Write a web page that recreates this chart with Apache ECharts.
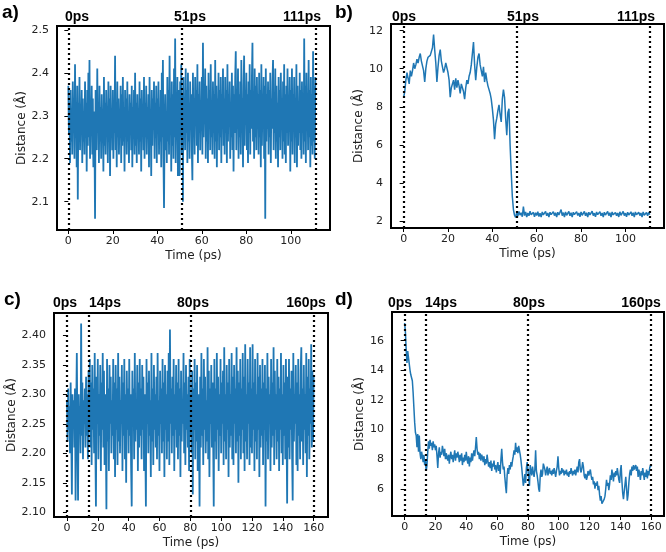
<!DOCTYPE html>
<html>
<head>
<meta charset="utf-8">
<script src="https://cdn.jsdelivr.net/npm/echarts@6/dist/echarts.min.js"></script>
<style>html,body{margin:0;padding:0;background:#fff}#c{width:666px;height:552px}</style>
</head>
<body>
<div id="c"></div>
<script>
// ---------------- DATA ----------------
// Panel a: Distance (Å) vs time, sampled every 0.25 ps from 0 to 111 ps
const aStep = 0.25;
const aValues = [
2.37,2.26,2.33,2.19,2.36,2.24,2.31,2.21,2.38,2.27,2.34,2.20,2.42,2.25,2.32,2.18,2.37,2.105,2.33,2.26,
2.39,2.22,2.32,2.27,2.36,2.19,2.34,2.24,2.31,2.21,2.38,2.26,2.33,2.17,2.36,2.23,2.40,2.25,2.43,2.20,
2.32,2.27,2.37,2.21,2.34,2.18,2.31,2.25,2.06,2.36,2.29,2.22,2.41,2.26,2.33,2.19,2.37,2.24,2.32,2.20,
2.35,2.26,2.31,2.17,2.39,2.23,2.33,2.21,2.36,2.27,2.32,2.19,2.38,2.24,2.34,2.16,2.37,2.25,2.31,2.22,
2.36,2.20,2.33,2.26,2.44,2.22,2.32,2.18,2.38,2.25,2.34,2.21,2.31,2.27,2.37,2.19,2.35,2.23,2.39,2.24,
2.32,2.17,2.36,2.26,2.34,2.21,2.38,2.24,2.31,2.19,2.35,2.27,2.33,2.22,2.37,2.18,2.32,2.25,2.36,2.21,
2.40,2.23,2.33,2.19,2.35,2.26,2.31,2.21,2.38,2.24,2.34,2.17,2.36,2.27,2.32,2.22,2.39,2.20,2.33,2.25,
2.37,2.21,2.32,2.26,2.35,2.18,2.39,2.24,2.31,2.16,2.36,2.23,2.34,2.27,2.38,2.20,2.33,2.25,2.37,2.19,
2.34,2.26,2.38,2.21,2.32,2.24,2.36,2.18,2.40,2.25,2.43,2.20,2.085,2.27,2.35,2.22,2.31,2.19,2.39,2.24,
2.36,2.21,2.44,2.26,2.33,2.17,2.38,2.23,2.35,2.20,2.41,2.25,2.48,2.19,2.34,2.27,2.39,2.16,2.36,2.22,
2.16,2.38,2.25,2.42,2.21,2.35,2.10,2.39,2.27,2.34,2.22,2.41,2.26,2.36,2.19,2.40,2.24,2.33,2.20,2.38,
2.27,2.35,2.22,2.15,2.40,2.25,2.34,2.21,2.39,2.28,2.36,2.23,2.42,2.19,2.35,2.26,2.38,2.22,2.33,2.27,
2.39,2.21,2.47,2.25,2.35,2.28,2.41,2.20,2.37,2.24,2.34,2.19,2.40,2.27,2.36,2.22,2.42,2.25,2.33,2.21,
2.38,2.26,2.35,2.20,2.43,2.24,2.37,2.18,2.34,2.28,2.40,2.22,2.36,2.25,2.39,2.19,2.35,2.27,2.41,2.23,
2.34,2.21,2.39,2.26,2.36,2.19,2.42,2.24,2.35,2.28,2.38,2.20,2.33,2.25,2.40,2.22,2.37,2.17,2.35,2.26,
2.39,2.45,2.22,2.36,2.27,2.41,2.20,2.35,2.25,2.38,2.21,2.43,2.26,2.34,2.18,2.37,2.44,2.23,2.36,2.28,
2.40,2.22,2.35,2.19,2.38,2.26,2.42,2.21,2.36,2.27,2.39,2.47,2.24,2.34,2.20,2.41,2.25,2.37,2.22,2.39,
2.27,2.35,2.21,2.40,2.25,2.36,2.18,2.42,2.23,2.34,2.28,2.39,2.20,2.37,2.06,2.41,2.24,2.35,2.27,2.38,
2.21,2.36,2.25,2.40,2.19,2.34,2.27,2.38,2.43,2.22,2.35,2.26,2.41,2.20,2.37,2.24,2.33,2.18,2.39,2.25,
2.36,2.22,2.40,2.27,2.34,2.20,2.38,2.24,2.42,2.21,2.35,2.19,2.37,2.26,2.41,2.23,2.34,2.28,2.39,2.17,
2.36,2.24,2.41,2.21,2.35,2.27,2.39,2.19,2.34,2.25,2.42,2.18,2.37,2.23,2.33,2.26,2.40,2.22,2.36,2.20,
2.38,2.26,2.35,2.21,2.48,2.24,2.37,2.19,2.40,2.27,2.34,2.22,2.43,2.25,2.36,2.18,2.39,2.23,2.35,2.21,
2.45,2.24,2.37,2.20,2.39
];
const aEvents = [0, 51, 111];
const aEventLabels = ['0ps', '51ps', '111ps'];
const aXTicks = [0, 20, 40, 60, 80, 100];
const aYTicks = [2.1, 2.2, 2.3, 2.4, 2.5];

// Panel b: sampled every 0.5 ps from 0 to 111 ps
const bStep = 0.5;
const bValues = [
8.5,8.8,9.4,9.8,9.5,9.2,9.9,9.6,9.9,10.3,
10.0,10.2,10.5,10.3,10.6,10.8,10.4,10.3,9.9,9.3,
10.0,10.4,10.6,10.5,10.7,10.6,11.1,11.8,11.0,10.3,
9.3,10.1,10.7,11.0,10.4,10.1,9.8,10.0,10.3,10.4,
9.8,9.4,8.5,9.0,9.2,9.4,8.9,9.5,9.0,9.4,
9.1,8.7,9.2,9.0,8.8,8.4,9.0,9.4,9.2,9.6,
9.8,10.2,10.8,11.4,10.2,9.4,10.1,10.6,10.8,10.2,
9.9,9.6,10.1,9.3,9.8,9.4,9.1,8.9,8.7,8.4,
7.9,7.3,6.3,7.1,7.4,7.8,8.1,7.6,7.2,8.4,
8.9,8.5,7.4,6.5,7.7,7.9,6.0,4.6,3.3,2.6,
2.30,2.18,2.46,2.26,2.50,2.31,2.43,2.22,2.75,2.28,2.47,2.21,2.42,2.27,2.51,2.33,2.24,2.45,2.22,2.43,
2.29,2.49,2.23,2.41,2.20,2.47,2.32,2.25,2.50,2.27,2.42,2.21,2.46,2.33,2.24,2.49,2.28,2.43,2.20,2.46,
2.31,2.26,2.60,2.28,2.44,2.21,2.47,2.30,2.24,2.50,2.27,2.43,2.20,2.46,2.33,2.25,2.49,2.29,2.42,2.22,
2.47,2.30,2.24,2.50,2.27,2.43,2.21,2.46,2.32,2.25,2.51,2.28,2.41,2.22,2.47,2.33,2.24,2.49,2.27,2.42,
2.21,2.46,2.31,2.26,2.50,2.28,2.43,2.20,2.47,2.32,2.25,2.45,2.27,2.42,2.21,2.48,2.30,2.24,2.50,2.28,
2.41,2.22,2.46,2.31,2.25,2.48,2.27,2.43,2.20,2.47,2.33,2.24,2.46,2.28,2.42,2.21,2.47,2.30,2.25,2.44,
2.27,2.45,2.33
];
const bEvents = [0, 51, 111];
const bEventLabels = ['0ps', '51ps', '111ps'];
const bXTicks = [0, 20, 40, 60, 80, 100];
const bYTicks = [2, 4, 6, 8, 10, 12];

// Panel c: sampled every 0.4 ps from 0 to 160 ps
const cStep = 0.4;
const cValues = [
2.29,2.22,2.31,2.24,2.28,2.20,2.32,2.23,2.13,2.30,2.25,2.29,2.21,2.31,2.12,2.27,2.37,2.23,2.12,2.30,
2.24,2.28,2.20,2.42,2.23,2.32,2.19,2.29,2.25,2.31,2.21,2.33,2.23,2.30,2.19,2.34,2.24,2.36,2.21,2.32,
2.18,2.35,2.24,2.31,2.20,2.37,2.22,2.11,2.33,2.25,2.36,2.19,2.30,2.23,2.35,2.17,2.32,2.24,2.37,2.21,
2.34,2.18,2.30,2.24,2.105,2.36,2.22,2.31,2.17,2.35,2.25,2.33,2.20,2.29,2.23,2.36,2.19,2.32,2.16,2.35,
2.24,2.31,2.18,2.37,2.22,2.33,2.20,2.29,2.25,2.35,2.17,2.32,2.23,2.36,2.19,2.30,2.15,2.34,2.24,2.31,
2.20,2.36,2.23,2.30,2.18,2.11,2.34,2.25,2.31,2.19,2.37,2.22,2.29,2.24,2.35,2.17,2.32,2.21,2.36,2.23,
2.31,2.19,2.35,2.24,2.33,2.17,2.30,2.22,2.11,2.36,2.25,2.32,2.20,2.34,2.23,2.29,2.16,2.37,2.22,2.31,
2.18,2.35,2.24,2.30,2.21,2.33,2.19,2.37,2.23,2.29,2.17,2.34,2.25,2.31,2.20,2.36,2.22,2.32,2.16,2.35,
2.24,2.30,2.19,2.34,2.22,2.37,2.18,2.41,2.25,2.31,2.20,2.33,2.23,2.36,2.17,2.30,2.24,2.35,2.21,2.32,
2.19,2.36,2.23,2.31,2.16,2.34,2.22,2.29,2.25,2.37,2.20,2.32,2.18,2.35,2.24,2.30,2.21,2.33,2.17,2.36,
2.23,2.30,2.20,2.34,2.13,2.31,2.24,2.36,2.19,2.32,2.22,2.35,2.17,2.30,2.25,2.11,2.33,2.21,2.37,2.23,
2.31,2.18,2.36,2.24,2.33,2.20,2.29,2.22,2.38,2.19,2.34,2.16,2.31,2.25,2.35,2.21,2.32,2.23,2.11,2.36,
2.22,2.31,2.19,2.37,2.24,2.33,2.17,2.30,2.23,2.36,2.20,2.32,2.25,2.34,2.18,2.38,2.22,2.30,2.19,2.35,
2.24,2.32,2.16,2.36,2.21,2.30,2.23,2.37,2.19,2.33,2.18,2.35,2.25,2.31,2.20,2.38,2.22,2.34,2.15,2.32,
2.23,2.36,2.19,2.31,2.24,2.37,2.20,2.33,2.17,2.385,2.22,2.30,2.19,2.36,2.25,2.32,2.18,2.38,2.21,2.31,
2.20,2.385,2.24,2.32,2.17,2.36,2.22,2.30,2.19,2.37,2.24,2.33,2.16,2.35,2.21,2.31,2.23,2.36,2.18,2.32,
2.24,2.35,2.11,2.31,2.22,2.37,2.19,2.33,2.25,2.30,2.17,2.36,2.21,2.32,2.23,2.38,2.18,2.34,2.24,2.30,
2.19,2.36,2.22,2.33,2.17,2.31,2.24,2.37,2.20,2.30,2.18,2.35,2.23,2.32,2.19,2.36,2.25,2.115,2.33,2.21,
2.36,2.19,2.31,2.24,2.34,2.20,2.12,2.37,2.22,2.30,2.25,2.35,2.18,2.32,2.17,2.36,2.23,2.30,2.19,2.34,
2.38,2.22,2.31,2.18,2.35,2.24,2.30,2.20,2.37,2.16,2.33,2.23,2.36,2.19,2.31,2.25,2.385,2.21,2.34,2.22,
2.33
];
const cEvents = [0, 14, 80, 160];
const cEventLabels = ['0ps', '14ps', '80ps', '160ps'];
const cXTicks = [0, 20, 40, 60, 80, 100, 120, 140, 160];
const cYTicks = [2.10, 2.15, 2.20, 2.25, 2.30, 2.35, 2.40];

// Panel d: sampled every 0.5 ps from 0 to 160 ps
const dStep = 0.5;
const dValues = [
17.2,16.6,15.4,14.5,15.3,15.4,15.2,14.0,13.7,13.5,
13.3,12.5,11.5,10.5,9.8,9.6,8.8,9.7,8.5,9.6,
8.4,8.0,8.5,8.2,7.8,8.3,7.6,7.9,7.2,7.6,
8.5,9.2,8.7,9.3,8.9,9.1,8.6,9.2,8.8,9.0,
8.6,8.9,8.2,7.4,8.4,8.8,8.1,8.5,8.3,8.9,
8.6,8.2,8.7,8.0,8.4,8.1,7.9,8.3,7.7,8.2,
8.5,8.0,8.3,7.8,8.2,8.6,7.9,8.4,8.1,8.5,
8.2,7.8,8.3,7.9,8.4,7.6,8.1,7.8,8.3,7.9,
8.5,8.0,7.7,8.2,7.5,8.1,7.8,8.4,7.9,8.3,
8.6,8.2,8.8,9.5,8.7,8.3,8.5,8.0,8.4,7.9,
8.3,8.1,7.8,8.2,7.6,8.0,7.7,8.3,7.9,7.5,
7.8,7.4,7.9,7.2,7.7,7.5,7.9,7.3,7.6,7.1,
7.5,7.8,7.2,7.6,7.0,8.0,8.7,7.8,7.3,7.5,
6.8,6.2,5.7,6.9,7.4,7.0,7.6,7.3,7.8,7.5,
7.9,8.2,8.6,8.3,9.1,8.5,8.8,8.4,8.9,8.6,
8.3,7.9,7.4,6.8,6.2,6.5,7.0,6.4,7.4,7.8,
7.3,6.7,6.2,7.6,7.2,6.9,7.5,7.1,6.8,7.3,
8.6,7.2,6.9,6.5,6.0,5.8,6.9,7.3,6.8,7.0,
7.7,7.8,7.3,6.9,7.2,7.5,6.9,7.2,7.4,7.0,
7.2,6.9,7.3,7.0,7.4,7.1,6.8,7.2,7.5,8.2,
7.4,6.9,7.2,7.0,7.4,7.1,7.3,6.9,7.2,7.0,
7.3,6.9,7.1,6.8,7.2,7.0,7.4,7.1,6.9,7.2,
7.0,7.3,6.9,7.2,7.5,7.1,7.8,8.0,7.3,7.1,
7.4,7.8,7.5,6.9,6.7,7.0,6.6,6.8,7.2,6.9,
7.0,7.3,6.9,6.6,6.8,6.3,6.5,6.0,6.4,6.2,
6.5,5.9,6.2,5.6,5.2,5.5,5.0,4.9,4.9,5.3,
5.5,6.0,6.6,6.2,6.4,5.9,6.3,6.9,6.6,7.3,
6.9,6.5,7.1,6.8,7.2,6.9,7.4,7.0,6.6,6.4,
7.2,7.6,6.5,5.7,5.3,5.8,6.3,6.8,6.0,5.2,
5.6,6.4,7.0,7.3,6.9,7.5,7.2,7.6,7.3,7.4,
7.6,7.2,7.5,6.8,7.3,7.0,6.6,7.2,6.9,7.4,
7.0,6.6,7.1,6.8,7.3,6.7,7.2,6.9,7.4,7.6,
7.5
];
const dEvents = [0, 14, 80, 160];
const dEventLabels = ['0ps', '14ps', '80ps', '160ps'];
const dXTicks = [0, 20, 40, 60, 80, 100, 120, 140, 160];
const dYTicks = [6, 8, 10, 12, 14, 16];

const panelLetters = ['a)', 'b)', 'c)', 'd)'];
const xTitle = 'Time (ps)';
const yTitle = 'Distance (Å)';

// ---------------- LAYOUT / STYLE ----------------
const panels = [
  {values: aValues, step: aStep, events: aEvents, evLabels: aEventLabels, xt: aXTicks, yt: aYTicks, ydec: 1, lw: 1.8,
   grid: {left: 57, top: 26, width: 273, height: 204}, xr: [-5.1, 117.6], yr: [2.034, 2.509], yGap: 28,
   letter: [2, 14], evPos: [[77, 17], [190, 17], [302, 17]]},
  {values: bValues, step: bStep, events: bEvents, evLabels: bEventLabels, xt: bXTicks, yt: bYTicks, ydec: 0, lw: 1.5,
   grid: {left: 391, top: 24, width: 273, height: 204}, xr: [-5.7, 117.4], yr: [1.63, 12.35], yGap: 24,
   letter: [335, 14], evPos: [[404, 17], [523, 17], [636, 17]]},
  {values: cValues, step: cStep, events: cEvents, evLabels: cEventLabels, xt: cXTicks, yt: cYTicks, ydec: 2, lw: 1.8,
   grid: {left: 54, top: 313, width: 274, height: 204}, xr: [-8.4, 169.3], yr: [2.092, 2.438], yGap: 34,
   letter: [4, 301], evPos: [[65, 303], [105, 303], [193, 303], [306, 303]]},
  {values: dValues, step: dStep, events: dEvents, evLabels: dEventLabels, xt: dXTicks, yt: dYTicks, ydec: 0, lw: 1.5,
   grid: {left: 392, top: 312, width: 272, height: 204}, xr: [-8.2, 168.3], yr: [4.16, 17.94], yGap: 24,
   letter: [335, 301], evPos: [[400, 303], [441, 303], [529, 303], [641, 303]]}
];

const font = 'DejaVu Sans';
const grids = [], xAxes = [], yAxes = [], series = [], graphics = [];
panels.forEach((p, k) => {
  grids.push(Object.assign({show: true, borderColor: '#000', borderWidth: 2, backgroundColor: 'transparent'}, p.grid));
  xAxes.push({
    type: 'value', gridIndex: k, min: p.xr[0], max: p.xr[1],
    axisLine: {show: false}, splitLine: {show: false},
    axisTick: {show: true, length: 4, lineStyle: {color: '#000', width: 1}, customValues: p.xt},
    axisLabel: {customValues: p.xt, fontFamily: font, fontSize: 11, color: '#222', margin: 6},
    name: xTitle, nameLocation: 'middle', nameGap: 20,
    nameTextStyle: {fontFamily: font, fontSize: 12, color: '#222'}
  });
  yAxes.push({
    type: 'value', gridIndex: k, min: p.yr[0], max: p.yr[1],
    axisLine: {show: false}, splitLine: {show: false},
    axisTick: {show: true, length: 4, lineStyle: {color: '#000', width: 1}, customValues: p.yt},
    axisLabel: {customValues: p.yt, fontFamily: font, fontSize: 11, color: '#222', margin: 8,
      formatter: (v) => Number(v).toFixed(p.ydec)},
    name: yTitle, nameLocation: 'middle', nameGap: p.yGap,
    nameTextStyle: {fontFamily: font, fontSize: 12, color: '#222'}
  });
  series.push({
    type: 'line', xAxisIndex: k, yAxisIndex: k, showSymbol: false, symbol: 'none',
    sampling: null, silent: true, animation: false,
    lineStyle: {color: '#1f77b4', width: p.lw},
    data: p.values.map((v, i) => [i * p.step, v]),
    markLine: {
      silent: true, symbol: ['none', 'none'], animation: false,
      label: {show: false},
      lineStyle: {color: '#000', width: 2.2, type: [2, 3]},
      data: p.events.map(e => ({xAxis: e}))
    }
  });
  graphics.push({type: 'text', left: p.letter[0], top: p.letter[1] - 11,
    style: {text: panelLetters[k], font: 'bold 19px "Liberation Sans"', fill: '#000'}});
  p.evLabels.forEach((t, j) => {
    graphics.push({type: 'text', x: p.evPos[j][0], y: p.evPos[j][1],
      style: {text: t, font: 'bold 14px "Liberation Sans"', fill: '#000', align: 'center', verticalAlign: 'middle',
        textAlign: 'center', textVerticalAlign: 'middle'}});
  });
});

const chart = echarts.init(document.getElementById('c'), null, {renderer: 'canvas'});
chart.setOption({
  animation: false,
  backgroundColor: '#fff',
  grid: grids, xAxis: xAxes, yAxis: yAxes, series: series, graphic: graphics
});
</script>
</body>
</html>
